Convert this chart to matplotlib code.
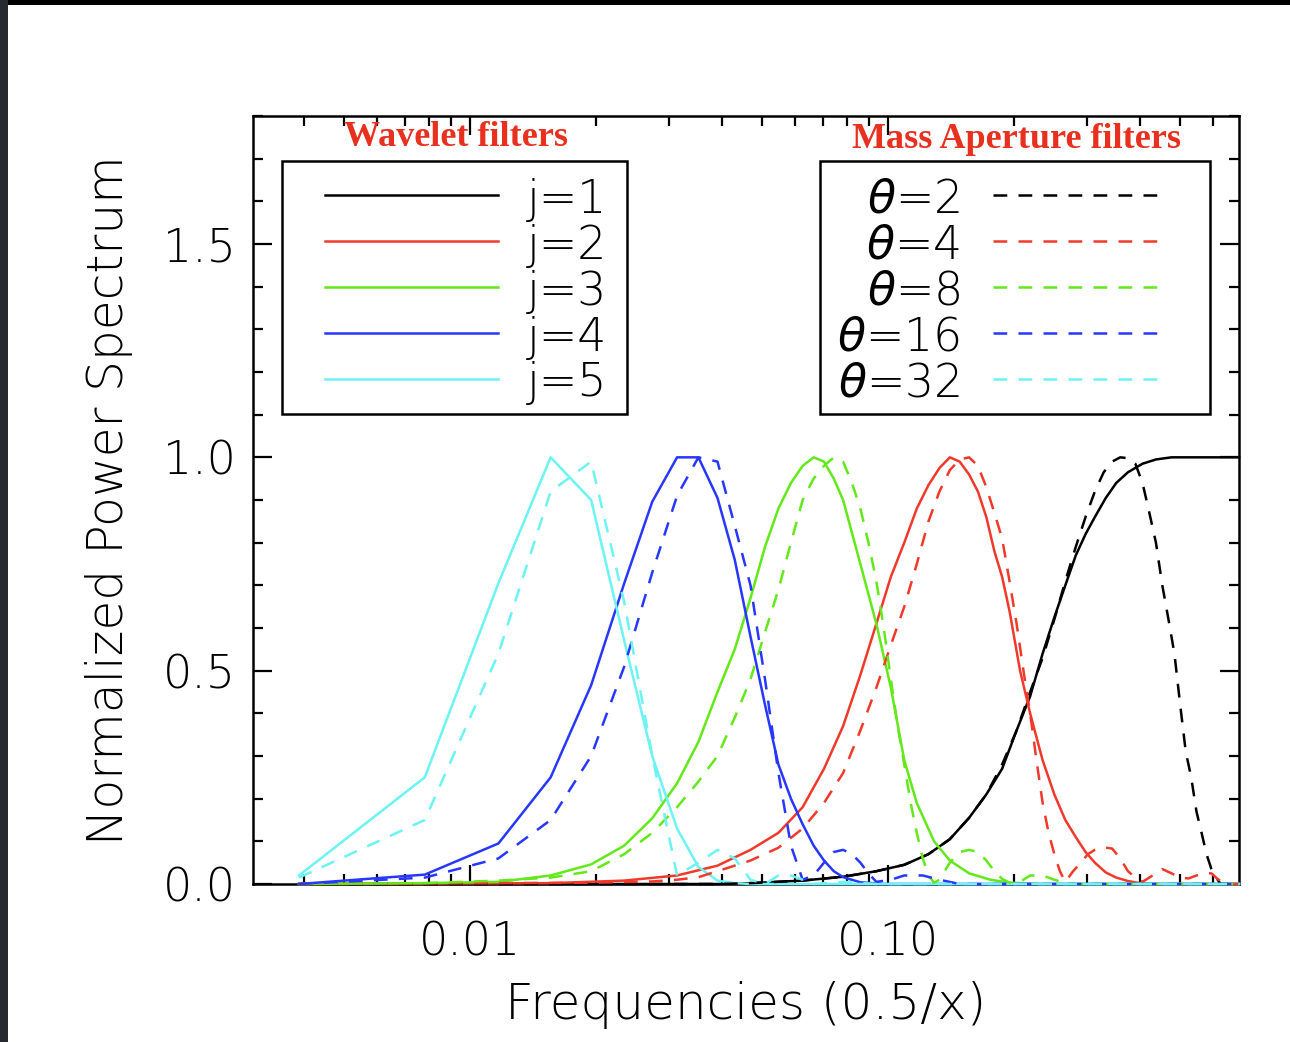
import numpy as np
import matplotlib
matplotlib.use("Agg")
import matplotlib.pyplot as plt
from matplotlib.patches import Rectangle
from matplotlib.ticker import FixedLocator, FixedFormatter, NullFormatter, MultipleLocator

# ---------------- data ----------------
# Wavelet filters (solid)
f_j5 = [0.0039, 0.0078, 0.0117, 0.0156, 0.0195, 0.0234, 0.0273, 0.0313, 0.0352, 0.0391, 0.0430, 0.0469, 0.0625, 0.6914]
p_j5 = [0.02, 0.25, 0.705, 1.0, 0.90, 0.57, 0.30, 0.13, 0.04, 0.008, 0.002, 0.0, 0.0, 0.0]

f_j4 = [0.0039, 0.0078, 0.0117, 0.0156, 0.0195, 0.0234, 0.0273, 0.0313, 0.0352, 0.0391, 0.0430, 0.0469,
        0.0508, 0.0547, 0.0586, 0.0625, 0.0664, 0.0703, 0.0742, 0.0781, 0.0859, 0.0977, 0.6914]
p_j4 = [0.0, 0.022, 0.095, 0.25, 0.466, 0.705, 0.896, 1.0, 1.0, 0.905, 0.76, 0.58,
        0.42, 0.28, 0.20, 0.14, 0.09, 0.055, 0.03, 0.016, 0.004, 0.0, 0.0]

f_j3 = [0.0039, 0.0078, 0.0117, 0.0156, 0.0195, 0.0234, 0.0273, 0.0313, 0.0352, 0.0391, 0.0430, 0.0469,
        0.0508, 0.0547, 0.0586, 0.0625, 0.0664, 0.0703, 0.0742, 0.0781, 0.0859, 0.0938, 0.1016, 0.1094,
        0.1172, 0.1289, 0.1406, 0.1563, 0.1758, 0.1953, 0.2344, 0.6914]
p_j3 = [0.0, 0.002, 0.005, 0.02, 0.046, 0.09, 0.154, 0.236, 0.333, 0.45, 0.55, 0.67,
        0.79, 0.88, 0.94, 0.98, 1.0, 0.99, 0.95, 0.90, 0.75, 0.61, 0.46, 0.29,
        0.19, 0.10, 0.055, 0.025, 0.01, 0.003, 0.0, 0.0]

f_j2 = [0.0039, 0.0156, 0.0234, 0.0313, 0.0391, 0.0469, 0.0547, 0.0625, 0.0703, 0.0781, 0.0859, 0.0938,
        0.1016, 0.1094, 0.1172, 0.1250, 0.1328, 0.1406, 0.1484, 0.1563, 0.1641, 0.1719, 0.1797, 0.1875,
        0.1953, 0.2070, 0.2188, 0.2344, 0.2500, 0.2656, 0.2813, 0.2969, 0.3125, 0.3320, 0.3516, 0.3750,
        0.4102, 0.6914]
p_j2 = [0.0, 0.002, 0.008, 0.02, 0.043, 0.08, 0.12, 0.18, 0.27, 0.37, 0.49, 0.61,
        0.72, 0.80, 0.88, 0.935, 0.975, 1.0, 0.99, 0.96, 0.92, 0.86, 0.78, 0.72,
        0.64, 0.50, 0.40, 0.29, 0.21, 0.15, 0.11, 0.075, 0.05, 0.027, 0.015, 0.007,
        0.0, 0.0]

f_j1 = [0.0039, 0.0391, 0.0469, 0.0625, 0.0781, 0.0938, 0.1094, 0.1250, 0.1406, 0.1563, 0.1719, 0.1875,
        0.2031, 0.2188, 0.2344, 0.2500, 0.2656, 0.2813, 0.2969, 0.3125, 0.3320, 0.3516, 0.3750, 0.4063,
        0.4375, 0.4766, 0.6914]
p_j1 = [0.0, 0.0, 0.002, 0.008, 0.017, 0.03, 0.045, 0.07, 0.105, 0.155, 0.21, 0.27,
        0.36, 0.44, 0.54, 0.625, 0.70, 0.77, 0.82, 0.86, 0.905, 0.94, 0.965, 0.985,
        0.995, 1.0, 1.0]

# Mass Aperture filters (dashed)
f_t32 = [0.0039, 0.0078, 0.0117, 0.0156, 0.0195, 0.0234, 0.0273, 0.0313, 0.0352, 0.0391, 0.0430, 0.0469,
         0.0508, 0.0547, 0.0586, 0.0625, 0.0664, 0.0781, 0.0938, 0.6914]
p_t32 = [0.015, 0.15, 0.54, 0.92, 0.99, 0.66, 0.30, 0.02, 0.05, 0.08, 0.06, 0.01,
         0.0, 0.02, 0.02, 0.01, 0.0, 0.005, 0.0, 0.0]

f_t16 = [0.0039, 0.0078, 0.0117, 0.0156, 0.0195, 0.0234, 0.0273, 0.0313, 0.0352, 0.0391, 0.0430, 0.0469,
         0.0508, 0.0547, 0.0586, 0.0625, 0.0664, 0.0703, 0.0742, 0.0781, 0.0820, 0.0859, 0.0898, 0.0938,
         0.1016, 0.1094, 0.1211, 0.1328, 0.1484, 0.6914]
p_t16 = [0.0, 0.015, 0.06, 0.15, 0.30, 0.51, 0.73, 0.91, 1.0, 0.99, 0.84, 0.70,
         0.48, 0.26, 0.09, 0.01, 0.02, 0.05, 0.075, 0.08, 0.07, 0.05, 0.025, 0.005,
         0.01, 0.02, 0.02, 0.01, 0.0, 0.0]

f_t8 = [0.0039, 0.0078, 0.0117, 0.0156, 0.0195, 0.0234, 0.0273, 0.0313, 0.0352, 0.0391, 0.0430, 0.0469,
        0.0508, 0.0547, 0.0586, 0.0625, 0.0664, 0.0703, 0.0742, 0.0781, 0.0820, 0.0859, 0.0898, 0.0938,
        0.0977, 0.1016, 0.1055, 0.1094, 0.1133, 0.1172, 0.1211, 0.1250, 0.1289, 0.1328, 0.1406, 0.1484,
        0.1563, 0.1641, 0.1719, 0.1797, 0.1875, 0.1953, 0.2070, 0.2188, 0.2344, 0.2500, 0.2656, 0.2813,
        0.6914]
p_t8 = [0.0, 0.002, 0.008, 0.015, 0.03, 0.07, 0.12, 0.18, 0.24, 0.30, 0.39, 0.48,
        0.59, 0.69, 0.80, 0.90, 0.95, 0.98, 1.0, 0.99, 0.94, 0.88, 0.80, 0.71,
        0.60, 0.48, 0.37, 0.28, 0.19, 0.12, 0.06, 0.02, 0.003, 0.01, 0.05, 0.075,
        0.08, 0.075, 0.055, 0.03, 0.012, 0.003, 0.005, 0.02, 0.02, 0.01, 0.002, 0.0,
        0.0]

f_t4 = [0.0039, 0.0195, 0.0273, 0.0313, 0.0352, 0.0391, 0.0469, 0.0547, 0.0625, 0.0703, 0.0781, 0.0859,
        0.0938, 0.1016, 0.1094, 0.1172, 0.1250, 0.1328, 0.1406, 0.1484, 0.1563, 0.1641, 0.1719, 0.1797,
        0.1875, 0.1953, 0.2031, 0.2109, 0.2188, 0.2266, 0.2344, 0.2422, 0.2500, 0.2578, 0.2656, 0.2773,
        0.2891, 0.3008, 0.3125, 0.3281, 0.3438, 0.3594, 0.3750, 0.3906, 0.4063, 0.4297, 0.4531, 0.4766,
        0.5000, 0.5234, 0.5469, 0.5703, 0.5938, 0.6172, 0.6406, 0.6641, 0.6914]
p_t4 = [0.0, 0.003, 0.006, 0.01, 0.016, 0.03, 0.055, 0.085, 0.13, 0.19, 0.26, 0.36,
        0.46, 0.56, 0.65, 0.75, 0.85, 0.92, 0.97, 0.995, 1.0, 0.98, 0.93, 0.87,
        0.81, 0.71, 0.61, 0.50, 0.40, 0.29, 0.19, 0.12, 0.07, 0.03, 0.005, 0.03,
        0.05, 0.07, 0.08, 0.086, 0.083, 0.06, 0.03, 0.015, 0.005, 0.02, 0.035, 0.025,
        0.015, 0.013, 0.02, 0.025, 0.025, 0.01, 0.005, 0.0, 0.0]

f_t2 = [0.0039, 0.0391, 0.0469, 0.0625, 0.0781, 0.0938, 0.1094, 0.1250, 0.1406, 0.1563, 0.1719, 0.1875,
        0.2031, 0.2188, 0.2344, 0.2500, 0.2656, 0.2813, 0.2969, 0.3125, 0.3281, 0.3438, 0.3594, 0.3750,
        0.3906, 0.4063, 0.4219, 0.4375, 0.4531, 0.4688, 0.4844, 0.5000, 0.5156, 0.5313, 0.5469, 0.5625,
        0.5781, 0.5938, 0.6094, 0.6250, 0.6914]
p_t2 = [0.0, 0.0, 0.002, 0.008, 0.017, 0.03, 0.045, 0.07, 0.105, 0.155, 0.21, 0.28,
        0.36, 0.45, 0.53, 0.62, 0.71, 0.79, 0.86, 0.92, 0.965, 0.99, 1.0, 0.998,
        0.985, 0.94, 0.87, 0.80, 0.70, 0.62, 0.54, 0.42, 0.31, 0.25, 0.17, 0.12,
        0.07, 0.035, 0.015, 0.0, 0.0]

wavelet_labels = ["j=1", "j=2", "j=3", "j=4", "j=5"]
aperture_labels = [r"$\theta$=2", r"$\theta$=4", r"$\theta$=8", r"$\theta$=16", r"$\theta$=32"]
x_tick_values = [0.01, 0.1]
x_tick_labels = ["0.01", "0.10"]
y_tick_values = [0.0, 0.5, 1.0, 1.5]
y_tick_labels = ["0.0", "0.5", "1.0", "1.5"]

colors = ["#000000", "#F0392A", "#63E81A", "#2737FF", "#6CF3F3"]
title_red = "#E8301F"

wavelet_series = [(f_j1, p_j1), (f_j2, p_j2), (f_j3, p_j3), (f_j4, p_j4), (f_j5, p_j5)]
aperture_series = [(f_t2, p_t2), (f_t4, p_t4), (f_t8, p_t8), (f_t16, p_t16), (f_t32, p_t32)]

# ---------------- figure ----------------
plt.rcParams["font.family"] = ["DejaVu Sans"]
plt.rcParams["mathtext.fontset"] = "dejavusans"

W, H = 1290, 1042
fig = plt.figure(figsize=(W / 100, H / 100), dpi=100)
fig.patch.set_facecolor("white")
# dark frame on the top and left edges of the screenshot
fig.patches.append(Rectangle((0, 1 - 5 / H), 1, 5 / H, transform=fig.transFigure,
                             facecolor="black", edgecolor="none", zorder=-1))
fig.patches.append(Rectangle((0, 0), 8 / W, 1, transform=fig.transFigure,
                             facecolor="#262a30", edgecolor="none", zorder=-1))

ax = fig.add_axes([253 / W, 1 - 884 / H, (1239 - 253) / W, (884 - 116) / H])
ax.set_xscale("log")
ax.set_xlim(0.003028, 0.6913)
ax.set_ylim(0, 1.8)

lw = 1.8
dash = (0, (5.5, 4.5))
for (f, p), c in zip(wavelet_series, colors):
    ax.plot(f, p, color=c, lw=lw, solid_joinstyle="round", clip_on=False, zorder=3)
for (f, p), c in zip(aperture_series, colors):
    ax.plot(f, p, color=c, lw=lw, linestyle=dash, clip_on=False, zorder=3)

# ticks (IDL style: inward on all sides)
ax.xaxis.set_major_locator(FixedLocator(x_tick_values))
ax.xaxis.set_major_formatter(FixedFormatter(x_tick_labels))
ax.xaxis.set_minor_locator(FixedLocator([0.004, 0.005, 0.006, 0.007, 0.008, 0.009,
                                         0.02, 0.03, 0.04, 0.05, 0.06, 0.07, 0.08, 0.09,
                                         0.2, 0.3, 0.4, 0.5, 0.6]))
ax.xaxis.set_minor_formatter(NullFormatter())
ax.yaxis.set_major_locator(FixedLocator(y_tick_values))
ax.yaxis.set_major_formatter(FixedFormatter(y_tick_labels))
ax.yaxis.set_minor_locator(MultipleLocator(0.1))

tick_font = 33
ax.tick_params(which="both", direction="in", top=True, right=True, width=1.6, color="black")
ax.tick_params(which="major", length=13.5)
ax.tick_params(which="minor", length=7)
ax.tick_params(axis="x", which="major", pad=26, labelsize=tick_font)
ax.tick_params(axis="y", which="major", pad=12, labelsize=tick_font)
for lab in ax.get_xticklabels() + ax.get_yticklabels():
    lab.set_fontweight("light")
for s in ax.spines.values():
    s.set_linewidth(1.8)

ax.set_xlabel("Frequencies (0.5/x)", fontsize=36, fontweight="light", labelpad=12)
ax.set_ylabel("Normalized Power Spectrum", fontsize=35, fontweight="light", labelpad=22)

# ---------------- legends (drawn as boxes in axes fraction) ----------------
row_y = [0.8971, 0.8372, 0.7773, 0.7174, 0.6576]
leg_font = 33
# left box: wavelet filters
ax.add_patch(Rectangle((0.0294, 0.6120), 0.3499, 0.3294, transform=ax.transAxes,
                       facecolor="white", edgecolor="black", lw=1.8, zorder=4))
for y, c, lab in zip(row_y, colors, wavelet_labels):
    ax.plot([0.0730, 0.2485], [y, y], transform=ax.transAxes, color=c, lw=lw, zorder=5)
    ax.text(0.2779, y, lab, transform=ax.transAxes, ha="left", va="center_baseline",
            fontsize=leg_font, fontweight="light", zorder=5)
# right box: mass aperture filters
ax.add_patch(Rectangle((0.5751, 0.6120), 0.3955, 0.3294, transform=ax.transAxes,
                       facecolor="white", edgecolor="black", lw=1.8, zorder=4))
for y, c, lab in zip(row_y, colors, aperture_labels):
    ax.plot([0.7505, 0.9229], [y, y], transform=ax.transAxes, color=c, lw=lw,
            linestyle=dash, zorder=5)
    ax.text(0.7170, y, lab, transform=ax.transAxes, ha="right", va="center_baseline",
            fontsize=leg_font, fontweight="light", zorder=5)

ax.text(0.2059, 0.972, "Wavelet filters", transform=ax.transAxes, ha="center", va="center",
        fontsize=26, fontweight="bold", family="Liberation Serif", color=title_red, zorder=5)
ax.text(0.7748, 0.9694, "Mass Aperture filters", transform=ax.transAxes, ha="center", va="center",
        fontsize=26, fontweight="bold", family="Liberation Serif", color=title_red, zorder=5)

fig.savefig("out.png", dpi=100, facecolor="white")
